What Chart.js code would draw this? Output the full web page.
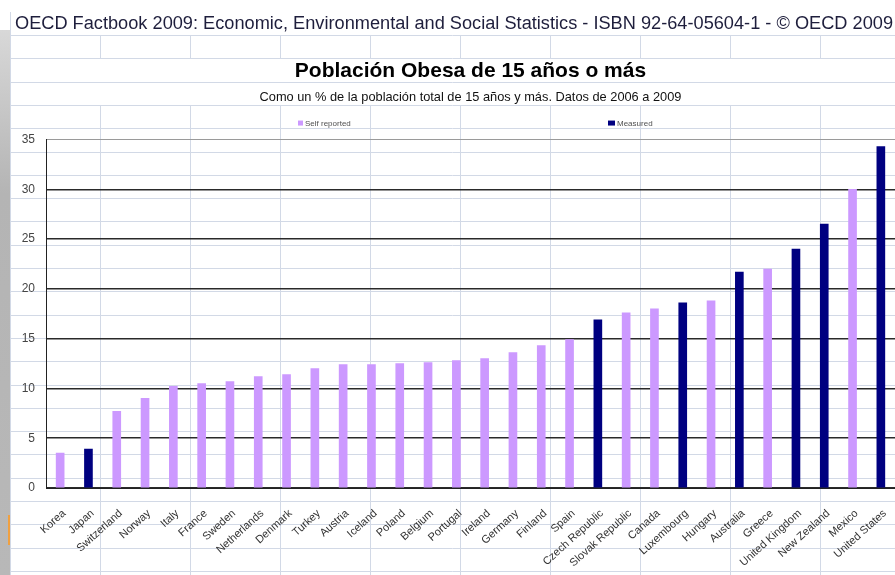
<!DOCTYPE html>
<html><head><meta charset="utf-8">
<script src="https://cdn.jsdelivr.net/npm/chart.js@4"></script>
<style>
html,body{margin:0;padding:0;width:895px;height:575px;overflow:hidden;background:#fff}
#sheet{position:absolute;left:0;top:0}
#hdr{position:absolute;left:15px;top:13px;font:18px "Liberation Sans",Arial,sans-serif;color:#1e1e3c;white-space:nowrap;transform-origin:0 0;line-height:20px}
#wrap{position:absolute;left:0;top:0;width:895px;height:575px}
</style></head><body>
<canvas id="sheet" width="895" height="575"></canvas>
<div id="hdr">OECD Factbook 2009: Economic, Environmental and Social Statistics - ISBN 92-64-05604-1 - © OECD 2009</div>
<div id="wrap"><canvas id="c"></canvas></div>
<script>
const categories = ['Korea','Japan','Switzerland','Norway','Italy','France','Sweden','Netherlands','Denmark','Turkey','Austria','Iceland','Poland','Belgium','Portugal','Ireland','Germany','Finland','Spain','Czech Republic','Slovak Republic','Canada','Luxembourg','Hungary','Australia','Greece','United Kingdom','New Zealand','Mexico','United States'];
const selfReported = [3.5,null,7.7,9.0,10.2,10.5,10.7,11.2,11.4,12.0,12.4,12.4,12.5,12.6,12.8,13.0,13.6,14.3,14.9,null,17.6,18.0,null,18.8,null,22.0,null,null,30.0,null];
const measured = [null,3.9,null,null,null,null,null,null,null,null,null,null,null,null,null,null,null,null,null,16.9,null,null,18.6,null,21.7,null,24.0,26.5,null,34.3];
const yTicks = [0,5,10,15,20,25,30,35];
const seriesLabels = ['Self reported','Measured'];
const titleText = 'Población Obesa de 15 años o más';
const subtitleText = 'Como un % de la población total de 15 años y más. Datos de 2006 a 2009';

// spreadsheet background
(function(){
  const c=document.getElementById('sheet'), g=c.getContext('2d');
  g.fillStyle='#fff'; g.fillRect(0,0,895,575);
  const gr=g.createLinearGradient(0,30,0,575);
  gr.addColorStop(0,'#d8d8d8'); gr.addColorStop(0.3,'#b4b4b4'); gr.addColorStop(1,'#b8b8b8');
  g.fillStyle=gr; g.fillRect(0,30,10,545);
  g.fillStyle='#f0a040'; g.fillRect(8,515,2,30);
  g.strokeStyle='#d2d9e6'; g.lineWidth=1;
  const rh=23.3;
  for(let k=0;k<24;k++){const y=Math.round(35+k*rh)+0.5; g.beginPath(); g.moveTo(10,y); g.lineTo(895,y); g.stroke();}
  g.beginPath(); g.moveTo(10.5,12); g.lineTo(10.5,575); g.stroke();
  for(let x=100;x<900;x+=90){
    g.beginPath(); g.moveTo(x+0.5,35); g.lineTo(x+0.5,58); g.moveTo(x+0.5,105); g.lineTo(x+0.5,575); g.stroke();
  }
})();
(function(){const h=document.getElementById('hdr'); const w=h.getBoundingClientRect().width; h.style.transform='scaleX('+(878/w)+')';})();

const legendPlugin = {
  id:'sheetLegend',
  afterDraw(chart){
    const ctx=chart.ctx, a=chart.chartArea, offs=[252,562];
    ctx.save();
    chart.data.datasets.forEach((ds,i)=>{
      const x=a.left+offs[i], y=a.top-16;
      ctx.fillStyle=ds.backgroundColor; ctx.fillRect(x,y-3,i?7:5,5);
      ctx.fillStyle='#505050'; ctx.font='8px "Liberation Sans", Arial'; ctx.textBaseline='middle'; ctx.textAlign='left';
      ctx.fillText(ds.label,x+(i?9:7),y);
    });
    ctx.restore();
  }
};

new Chart(document.getElementById('c'),{
  type:'bar',
  data:{labels:categories,datasets:[
    {label:seriesLabels[0],data:selfReported,backgroundColor:'#CC99FF',grouped:false,barThickness:8},
    {label:seriesLabels[1],data:measured,backgroundColor:'#000080',grouped:false,barThickness:8}
  ]},
  options:{
    responsive:true,maintainAspectRatio:false,animation:false,
    layout:{padding:{left:0,right:0,top:59,bottom:0}},
    plugins:{
      legend:{display:false},tooltip:{enabled:false},
      title:{display:true,fullSize:false,text:titleText,color:'#000',font:{family:'"Liberation Sans", Arial',size:21,weight:'bold'},padding:{top:0,bottom:2}},
      subtitle:{display:true,fullSize:false,text:subtitleText,color:'#111',font:{family:'"Liberation Sans", Arial',size:12.8},padding:{top:4,bottom:34}}
    },
    scales:{
      x:{
        grid:{drawOnChartArea:false,drawTicks:true,tickLength:19,tickColor:'rgba(0,0,0,0)'},
        border:{color:'#222',width:1},
        ticks:{color:'#333',font:{family:'"Liberation Sans", Arial',size:11},minRotation:42,maxRotation:42,padding:0,labelOffset:4,autoSkip:false},
        afterFit(s){s.height=87;}
      },
      y:{
        min:0,max:35,
        afterBuildTicks(s){s.ticks=yTicks.map(v=>({value:v}));},
        grid:{drawTicks:false,color:c=>c.tick&&c.tick.value===35?'#9a9a9a':'#2a2a2a',lineWidth:c=>c.tick&&c.tick.value===35?1:1.5},
        border:{color:'#222',width:1},
        ticks:{color:'#444',font:{family:'"Liberation Sans", Arial',size:12},padding:11},
        afterFit(s){s.width=46;}
      }
    }
  },
  plugins:[legendPlugin]
});
</script>
</body></html>
